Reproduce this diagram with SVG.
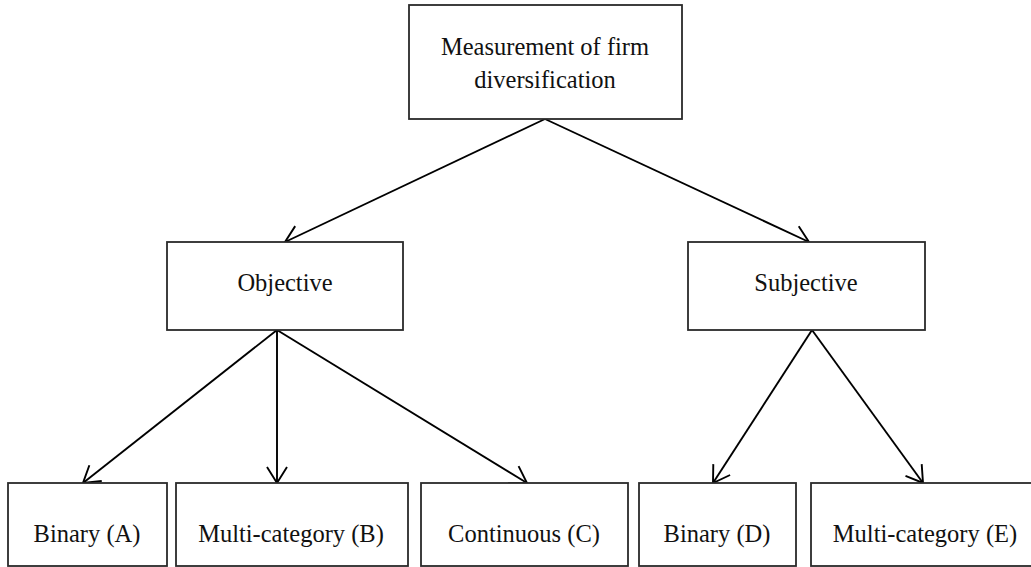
<svg xmlns="http://www.w3.org/2000/svg" width="1031" height="567" viewBox="0 0 1031 567">
<style>
.box{fill:#fff;stroke:#2a2a2a;stroke-width:1.8}
.lbl{font-family:"Liberation Serif","Times New Roman",serif;font-size:24.5px;fill:#111;text-anchor:middle}
.conn{stroke:#000;stroke-width:1.9;fill:none;marker-end:url(#arr)}
</style>
<defs>
<marker id="arr" markerUnits="userSpaceOnUse" markerWidth="24" markerHeight="24" viewBox="-20 -12 24 24" refX="0" refY="0" orient="auto">
<path d="M -16 -10 L 0 0 L -16 10" fill="none" stroke="#000" stroke-width="1.9"/>
</marker>
</defs>
<rect width="1031" height="567" fill="#fff"/>
<g id="connectors">
<line class="conn" x1="545" y1="119" x2="285" y2="242"/>
<line class="conn" x1="545" y1="119" x2="809" y2="242"/>
<line class="conn" x1="277" y1="330" x2="83" y2="483"/>
<line class="conn" x1="277" y1="330" x2="277" y2="483"/>
<line class="conn" x1="277" y1="330" x2="527" y2="483"/>
<line class="conn" x1="812" y1="330" x2="713" y2="483"/>
<line class="conn" x1="812" y1="330" x2="923" y2="483"/>
</g>
<g id="root">
<rect class="box" x="409" y="5" width="273" height="114"/>
<text class="lbl" x="545" y="55">Measurement of firm</text>
<text class="lbl" x="545" y="88">diversification</text>
</g>
<g id="objective">
<rect class="box" x="167" y="242" width="236" height="88"/>
<text class="lbl" x="285" y="291">Objective</text>
</g>
<g id="subjective">
<rect class="box" x="688" y="242" width="237" height="88"/>
<text class="lbl" x="806" y="291">Subjective</text>
</g>
<g id="binaryA">
<rect class="box" x="8" y="483" width="159" height="83"/>
<text class="lbl" x="87" y="542">Binary (A)</text>
</g>
<g id="multiB">
<rect class="box" x="176" y="483" width="232" height="83"/>
<text class="lbl" x="291" y="542">Multi-category (B)</text>
</g>
<g id="continuousC">
<rect class="box" x="421" y="483" width="207" height="83"/>
<text class="lbl" x="524" y="542">Continuous (C)</text>
</g>
<g id="binaryD">
<rect class="box" x="639" y="483" width="157" height="83"/>
<text class="lbl" x="717" y="542">Binary (D)</text>
</g>
<g id="multiE">
<rect class="box" x="811" y="483" width="229" height="83"/>
<text class="lbl" x="925" y="542">Multi-category (E)</text>
</g>
</svg>
